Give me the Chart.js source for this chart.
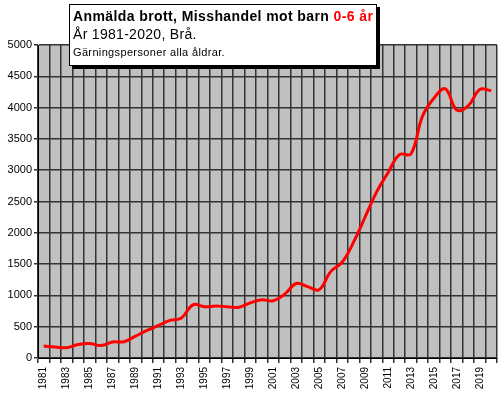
<!DOCTYPE html>
<html>
<head>
<meta charset="utf-8">
<script src="https://cdn.jsdelivr.net/npm/chart.js@4/dist/chart.umd.min.js"></script>
<style>
    body { margin: 0; background: #fff; }
    #wrap { position: relative; width: 500px; height: 399px; }
    #titleBox {
        position: absolute; left: 69px; top: 4px; width: 303px; height: 58px;
        background: #fff; border: 1px solid #000; box-shadow: 3px 3px 0 #000;
        padding: 2px 0 0 3px; font-family: "Liberation Sans", Arial, sans-serif; color: #000;
    }
    #titleBox .t1 { font-weight: bold; font-size: 14px; line-height: 18px; letter-spacing: 0.4px; }
    #titleBox .t1 span { color: #ff0000; }
    #titleBox .t2 { font-size: 14px; line-height: 19px; letter-spacing: 0.3px; }
    #titleBox .t3 { font-size: 11px; line-height: 16px; letter-spacing: 0.35px; }
</style>
</head>
<body>
<div id="wrap">
    <canvas id="chart" width="500" height="399"></canvas>
    <div id="titleBox">
        <div class="t1">Anmälda brott, Misshandel mot barn <span>0-6 år</span></div>
        <div class="t2">År 1981-2020, Brå.</div>
        <div class="t3">Gärningspersoner alla åldrar.</div>
    </div>
</div>
<script>
const years = ['1981','1982','1983','1984','1985','1986','1987','1988','1989','1990',
    '1991','1992','1993','1994','1995','1996','1997','1998','1999','2000',
    '2001','2002','2003','2004','2005','2006','2007','2008','2009','2010',
    '2011','2012','2013','2014','2015','2016','2017','2018','2019','2020'];
const reported = [190, 175, 165, 215, 230, 200, 255, 260, 350, 440,
    520, 600, 640, 850, 820, 830, 820, 810, 880, 930,
    915, 1020, 1190, 1140, 1090, 1380, 1530, 1850, 2250, 2650,
    2960, 3250, 3260, 3860, 4150, 4300, 3960, 4030, 4290, 4270];
const yTicks = [0, 500, 1000, 1500, 2000, 2500, 3000, 3500, 4000, 4500, 5000];

// grey plot background
const plotBg = {
    id: 'plotBg',
    beforeDraw(c) {
        const a = c.chartArea;
        c.ctx.save();
        c.ctx.fillStyle = '#c0c0c0';
        c.ctx.fillRect(a.left, a.top, a.right - a.left, a.bottom - a.top);
        c.ctx.restore();
    }
};

const chart = new Chart(document.getElementById('chart'), {
    type: 'line',
    data: {
        labels: years,
        datasets: [{
            data: reported,
            borderColor: '#ff0000',
            borderWidth: 3,
            pointRadius: 0,
            fill: false,
            tension: 0.4
        }]
    },
    options: {
        responsive: false,
        animation: false,
        layout: { padding: { top: 45, right: 3, left: 0, bottom: 0 } },
        plugins: { legend: { display: false }, tooltip: { enabled: false } },
        scales: {
            x: {
                offset: true,
                grid: { offset: true, color: '#333', lineWidth: 1.5, tickLength: 5 },
                border: { color: '#000', width: 1 },
                ticks: {
                    autoSkip: false, minRotation: 90, maxRotation: 90, padding: 4,
                    color: '#000', font: { family: 'Liberation Sans', size: 10 },
                    callback: (v, i) => (i % 2 === 0 ? years[i] : '')
                },
                afterFit: s => { s.height = 41; s.paddingLeft = 0; s.paddingRight = 0; }
            },
            y: {
                min: 0, max: 5000,
                afterBuildTicks: s => { s.ticks = yTicks.map(v => ({ value: v })); },
                grid: { color: '#333', lineWidth: 1.5, tickLength: 4 },
                border: { color: '#000', width: 1 },
                ticks: {
                    padding: 2, color: '#000',
                    font: { family: 'Liberation Sans', size: 11 },
                    callback: v => String(v)
                },
                afterFit: s => { s.width = 38; s.paddingTop = 0; s.paddingBottom = 0; }
            }
        }
    },
    plugins: [plotBg]
});
</script>
</body>
</html>
